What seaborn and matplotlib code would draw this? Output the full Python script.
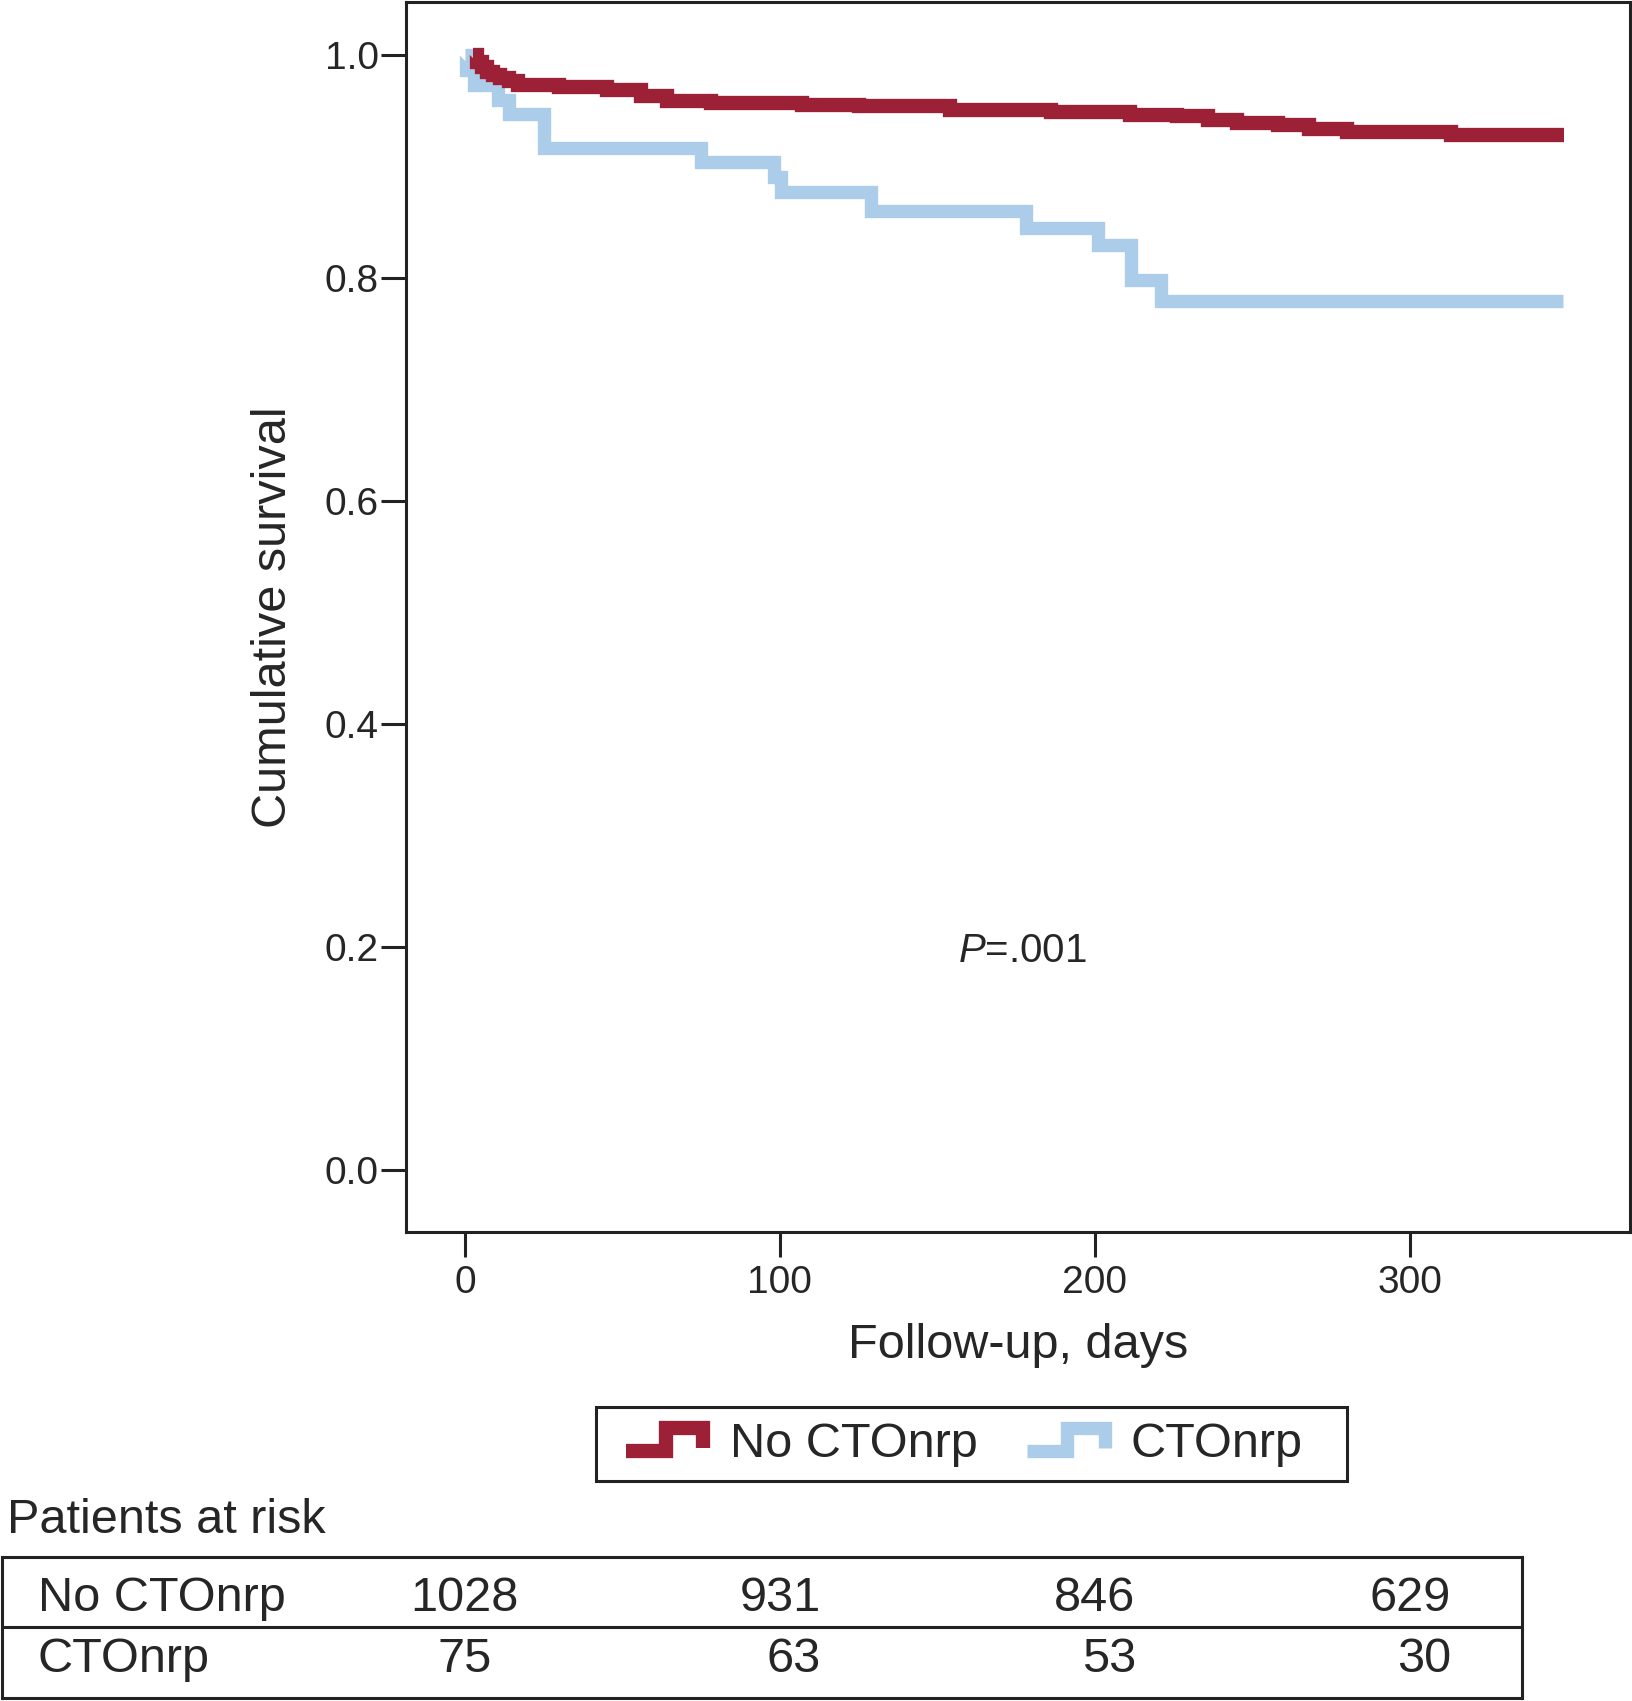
"""
Kaplan-Meier curve for CTOnrp vs no CTOnrp with patients-at-risk table.
"""
import numpy as np
import pandas as pd
import matplotlib
matplotlib.use("Agg")
import matplotlib.pyplot as plt
import matplotlib.transforms as mtransforms
from matplotlib.legend_handler import HandlerBase
from matplotlib.lines import Line2D
from matplotlib.patches import Rectangle
import seaborn as sns

# survival steps (days, cumulative survival)
no_cto_days = [2.5, 4, 5.5, 7, 9, 11, 14, 17, 30, 45, 56, 64, 78, 107, 125, 154,
               186, 211, 226, 236, 245, 258, 268, 280, 313, 349]
no_cto_surv = [1.0, 0.994, 0.989, 0.985, 0.982, 0.979, 0.977, 0.973, 0.971, 0.969,
               0.963, 0.959, 0.957, 0.955, 0.9545, 0.951, 0.949, 0.946, 0.945, 0.942,
               0.939, 0.937, 0.934, 0.931, 0.928, 0.928]

cto_days = [0, 0.5, 3, 10.5, 14, 25, 75, 98, 100.5, 129, 178, 201, 211.5, 221, 348.5]
cto_surv = [1.0, 0.987, 0.973, 0.960, 0.947, 0.917, 0.904, 0.891, 0.877, 0.860,
            0.845, 0.830, 0.798, 0.779, 0.779]

groups = ["No CTOnrp", "CTOnrp"]
colors = {"No CTOnrp": "#9C2036", "CTOnrp": "#ABCDEA"}
widths = {"No CTOnrp": 10.3, "CTOnrp": 9.6}

risk_times = [0, 100, 200, 300]
risk_no_cto = [1028, 931, 846, 629]
risk_cto = [75, 63, 53, 30]


class StepHandler(HandlerBase):
    """Legend icon drawn as a small step."""
    def create_artists(self, legend, orig_handle, xdescent, ydescent,
                       width, height, fontsize, trans):
        x0, y0 = -xdescent, -ydescent
        xs = x0 + width * np.array([0.0, 0.47, 0.47, 0.92, 0.92])
        ys = y0 + height * np.array([0.16, 0.16, 0.84, 0.84, 0.26])
        line = Line2D(xs, ys, color=orig_handle.get_color(),
                      lw=orig_handle.get_linewidth(),
                      solid_joinstyle="miter", solid_capstyle="butt")
        line.set_transform(trans)
        return [line]


sns.set_style("ticks")
plt.rcParams["font.family"] = ["Liberation Sans", "DejaVu Sans"]
plt.rcParams["mathtext.fontset"] = "custom"
plt.rcParams["mathtext.rm"] = "Liberation Sans"
plt.rcParams["mathtext.it"] = "Liberation Sans:italic"

df = pd.concat([
    pd.DataFrame({"days": cto_days, "surv": cto_surv, "group": "CTOnrp"}),
    pd.DataFrame({"days": no_cto_days, "surv": no_cto_surv, "group": "No CTOnrp"}),
], ignore_index=True)

fig = plt.figure(figsize=(16.33, 17.01), dpi=100)
ax = fig.add_axes([0.2486, 0.2757, 0.7495, 0.7231])

# blue first, red drawn on top
for g in ["CTOnrp", "No CTOnrp"]:
    sns.lineplot(data=df[df["group"] == g], x="days", y="surv",
                 color=colors[g], estimator=None, drawstyle="steps-post",
                 linewidth=widths[g], solid_joinstyle="miter",
                 solid_capstyle="butt", legend=False, ax=ax)

ax.set_xlim(-18.7, 369.8)
ax.set_ylim(-0.0556, 1.0475)
ax.set_xticks(risk_times)
ax.set_yticks([0.0, 0.2, 0.4, 0.6, 0.8, 1.0])
ax.set_yticklabels([f"{v:.1f}" for v in [0.0, 0.2, 0.4, 0.6, 0.8, 1.0]])
ax.tick_params(axis="x", length=18, width=2.2, pad=5.8, labelsize=28, color="#222222")
ax.tick_params(axis="y", length=18, width=2.2, pad=1.5, labelsize=28, color="#222222")
for s in ax.spines.values():
    s.set_visible(True)
    s.set_linewidth(2.2)
    s.set_color("#222222")
ax.set_xlabel("Follow-up, days", fontsize=35, labelpad=16)
ax.set_ylabel("Cumulative survival", fontsize=35, labelpad=21)
ax.text(177, 0.196, "$P$=.001", fontsize=29, ha="center", va="center")

# legend with step icons, frame drawn separately
handles = [Line2D([], [], color=colors[g], lw=widths[g]) for g in groups]
fig.legend(handles, groups, loc="center left",
           bbox_to_anchor=(626 / 1633, 0.151), ncol=2, frameon=False,
           fontsize=35, handlelength=1.73, handletextpad=0.4,
           columnspacing=1.03, borderpad=0, borderaxespad=0,
           handler_map={Line2D: StepHandler()})
fig.add_artist(Rectangle((596 / 1633, 1 - 1481 / 1701), (1347 - 596) / 1633, 74 / 1701,
                         transform=fig.transFigure, fill=False, lw=2.2, ec="#222222"))

fig.text(0.004, 0.0988, "Patients at risk", fontsize=35, ha="left", va="baseline")

# patients-at-risk table
tab = fig.add_axes([0.001, 0.00176, 0.931, 0.0829])
tab.set_xticks([])
tab.set_yticks([])
for s in tab.spines.values():
    s.set_linewidth(2.2)
    s.set_color("#222222")
tab.axhline(0.5, color="#222222", lw=2.2)
tab.text(0.0237, 0.617, "No CTOnrp", fontsize=35, ha="left", va="baseline", transform=tab.transAxes)
tab.text(0.0237, 0.186, "CTOnrp", fontsize=35, ha="left", va="baseline", transform=tab.transAxes)
blend = mtransforms.blended_transform_factory(ax.transData, tab.transAxes)
for t, n in zip(risk_times, risk_no_cto):
    tab.text(t, 0.617, str(n), fontsize=35, ha="center", va="baseline", transform=blend)
for t, n in zip(risk_times, risk_cto):
    if t == 0:
        tab.text(t, 0.186, str(n), fontsize=35, ha="center", va="baseline", transform=blend)
    else:
        tab.text(t + 13, 0.186, str(n), fontsize=35, ha="right", va="baseline", transform=blend)

fig.savefig("out.png", dpi=100)
plt.close(fig)
